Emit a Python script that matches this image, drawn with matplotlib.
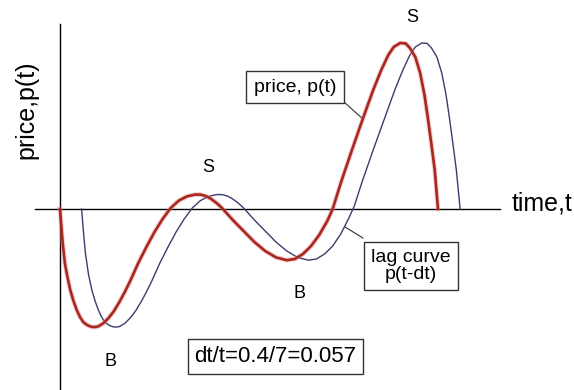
import matplotlib
matplotlib.use("Agg")
import matplotlib.pyplot as plt

plt.rcParams['font.family'] = ['Liberation Sans', 'DejaVu Sans']

# price curve p(t)
t_price = [0, 0.02, 0.05, 0.09, 0.13, 0.19, 0.25, 0.31, 0.37, 0.43, 0.49, 0.55, 0.60,
           0.65, 0.70, 0.80, 0.90, 1.00, 1.10, 1.20, 1.30, 1.45, 1.60, 1.75, 1.90, 2.05,
           2.20, 2.35, 2.50, 2.60, 2.70, 2.80, 2.90, 3.00, 3.20, 3.40, 3.60, 3.80, 4.00,
           4.20, 4.35, 4.50, 4.65, 4.80, 4.95, 5.05, 5.20, 5.40, 5.60, 5.80, 5.95, 6.08,
           6.18, 6.30, 6.40, 6.48, 6.58, 6.67, 6.75, 6.81, 6.88, 6.94, 7.00]
p_price = [0, -0.7, -1.7, -2.7, -3.3, -4.05, -4.6, -5.05, -5.4, -5.65, -5.78, -5.86, -5.9,
           -5.9, -5.88, -5.72, -5.45, -5.1, -4.65, -4.15, -3.6, -2.7, -1.9, -1.15, -0.5, 0.05,
           0.42, 0.63, 0.72, 0.72, 0.65, 0.5, 0.3, 0.05, -0.55, -1.1, -1.65, -2.1, -2.42,
           -2.56, -2.5, -2.25, -1.85, -1.3, -0.6, 0.0, 1.3, 2.9, 4.45, 5.95, 6.95, 7.7,
           8.1, 8.3, 8.28, 8.05, 7.6, 6.8, 5.7, 4.6, 3.2, 1.95, 0]

# lag curve p(t-dt)
t_lag = [0.40, 0.43, 0.47, 0.53, 0.59, 0.65, 0.71, 0.77, 0.83, 0.89, 0.95, 1.00, 1.05,
         1.10, 1.20, 1.30, 1.40, 1.50, 1.60, 1.70, 1.85, 2.00, 2.15, 2.30, 2.45, 2.60,
         2.75, 2.90, 3.00, 3.10, 3.20, 3.30, 3.40, 3.60, 3.80, 4.00, 4.20, 4.40, 4.60,
         4.75, 4.90, 5.05, 5.20, 5.35, 5.45, 5.60, 5.80, 6.00, 6.20, 6.35, 6.48, 6.58,
         6.70, 6.80, 6.88, 6.98, 7.07, 7.15, 7.21, 7.28, 7.34, 7.41]
p_lag = [0, -1.0, -2.2, -3.3, -4.05, -4.6, -5.05, -5.4, -5.65, -5.78, -5.86, -5.9, -5.9,
         -5.88, -5.72, -5.45, -5.1, -4.65, -4.15, -3.6, -2.7, -1.9, -1.15, -0.5, 0.05, 0.42,
         0.63, 0.72, 0.72, 0.65, 0.5, 0.3, 0.05, -0.55, -1.1, -1.65, -2.1, -2.42, -2.56,
         -2.5, -2.25, -1.85, -1.25, -0.45, 0.15, 1.4, 2.95, 4.45, 5.95, 6.95, 7.7, 8.1,
         8.3, 8.28, 8.05, 7.6, 6.8, 5.7, 4.6, 3.2, 1.95, 0]

fig = plt.figure(figsize=(5.74, 3.90), dpi=100)
ax = fig.add_axes([0, 0, 1, 1])
ax.set_xlim(-1.111, 9.519)
ax.set_ylim(-9.05, 10.45)
ax.axis('off')

# axes drawn by hand
ax.plot([-0.46, 8.15], [0, 0], color='black', lw=1)
ax.plot([0, 0], [-9.05, 9.25], color='black', lw=1)

ax.plot(t_lag, p_lag, color='#3c3c6e', lw=1, zorder=3)
ax.plot(t_price, p_price, color='#e89090', lw=3.4, alpha=0.45, zorder=4,
        solid_joinstyle='round')
ax.plot(t_price, p_price, color='#a82820', lw=1.9, zorder=5, solid_joinstyle='round')

ax.text(-0.62, 4.95, 'price,p(t)', rotation=90, fontsize=18, ha='center', va='center')
ax.text(8.37, 0.3, 'time,t', fontsize=18, ha='left', va='center')

for tx, py, s in [(2.74, 2.1, 'S'), (6.52, 9.6, 'S'), (0.93, -7.65, 'B'), (4.44, -4.2, 'B')]:
    ax.text(tx, py, s, fontsize=13, ha='center', va='center')

box = dict(boxstyle='square,pad=0.4', fc='white', ec='#333333', lw=1)
ax.text(4.35, 6.1, 'price, p(t)', fontsize=14, ha='center', va='center', bbox=box)
ax.plot([5.28, 5.59], [5.3, 4.55], color='#333333', lw=0.8)

ax.text(6.5, -2.85, 'lag curve\np(t-dt)', fontsize=14, ha='center', va='center',
        linespacing=1.05, bbox=dict(boxstyle='square,pad=0.35', fc='white', ec='#333333', lw=1))
ax.plot([5.28, 5.61], [-0.9, -1.45], color='#333333', lw=0.8)

ax.text(3.99, -7.375, 'dt/t=0.4/7=0.057', fontsize=16, ha='center', va='center',
        bbox=dict(boxstyle='square,pad=0.3', fc='white', ec='#333333', lw=1))

fig.savefig('out.png', dpi=100)
